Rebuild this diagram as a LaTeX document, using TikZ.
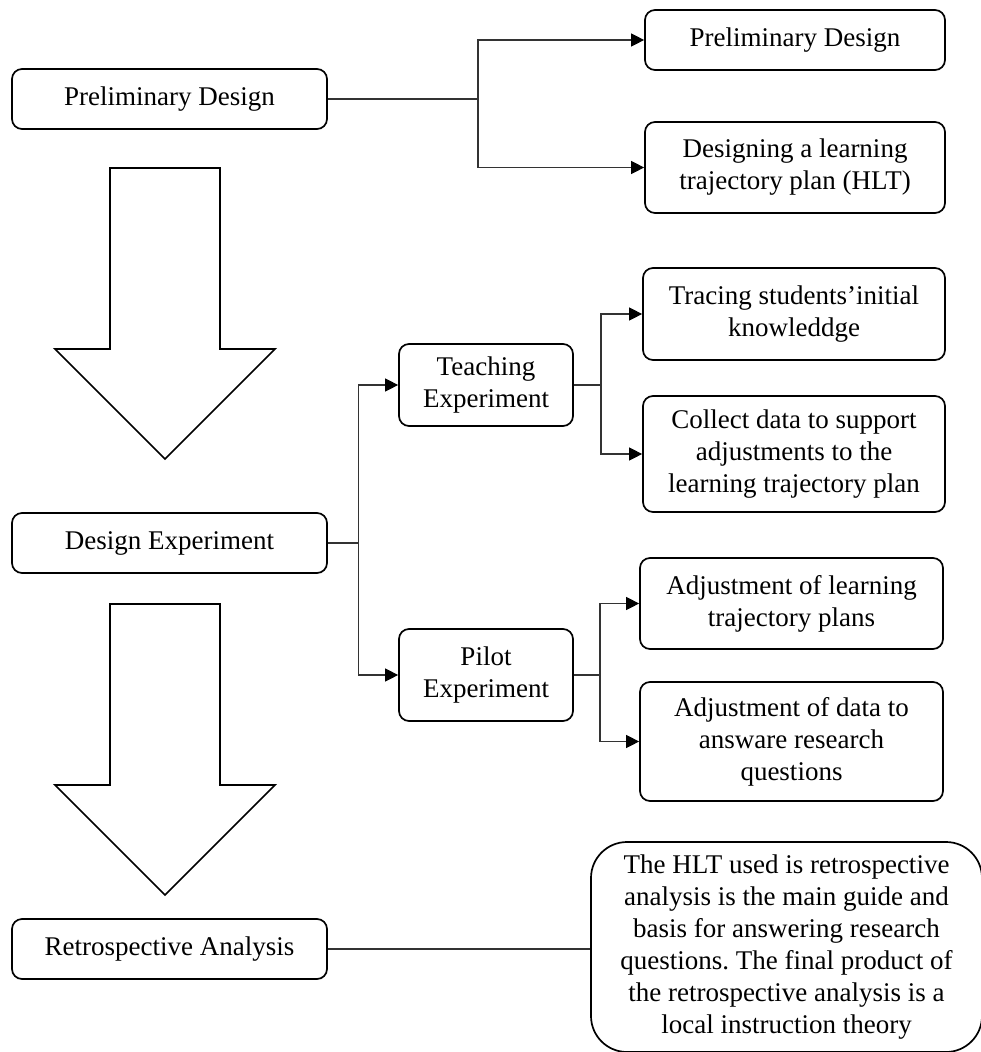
\documentclass[tikz,border=0pt]{standalone}
\usepackage{fontspec}
\setmainfont{Liberation Serif}
\usetikzlibrary{arrows.meta,calc}
\frenchspacing
\begin{document}
\begin{tikzpicture}[x=1pt,y=-1pt,
  box/.style={draw, line width=1.7pt, rounded corners=10pt, align=center, inner sep=0pt,
    font=\fontsize{27}{32}\selectfont},
  conn/.style={draw=black!80, line width=1.1pt},
  arr/.style={conn, -{Triangle[length=13pt,width=13pt,color=black]}},
  bigarrow/.style={draw, line width=1.7pt, fill=white, line join=miter}
]
\useasboundingbox (0,0) rectangle (981,1052);

% left column
\node[box, minimum width=315, minimum height=60] (pd) at (169.5,99) {Preliminary Design};
\node[box, minimum width=315, minimum height=60] (de) at (169.5,543) {Design Experiment};
\node[box, minimum width=315, minimum height=60] (ra) at (169.5,949) {Retrospective Analysis};

% big down arrows
\draw[bigarrow] (110,168) -- (220,168) -- (220,349) -- (275,349) -- (165,459) -- (55,349) -- (110,349) -- cycle;
\draw[bigarrow] (110,604) -- (220,604) -- (220,785) -- (275,785) -- (165,895) -- (55,785) -- (110,785) -- cycle;

% right of preliminary design
\node[box, minimum width=300, minimum height=60] (pd2) at (795,40) {Preliminary Design};
\node[box, minimum width=300, minimum height=91] (hlt) at (795,167.5) {Designing a learning\\trajectory plan (HLT)};

% middle column
\node[box, minimum width=174, minimum height=82] (te) at (486,385) {Teaching\\Experiment};
\node[box, minimum width=174, minimum height=92] (pe) at (486,675) {Pilot\\Experiment};

% right column
\node[box, minimum width=302, minimum height=92] (tr) at (794,314) {Tracing students’initial\\knowleddge};
\node[box, minimum width=302, minimum height=116] (cd) at (794,454) {Collect data to support\\adjustments to the\\learning trajectory plan};
\node[box, minimum width=303, minimum height=91] (al) at (791.5,603.5) {Adjustment of learning\\trajectory plans};
\node[box, minimum width=303, minimum height=119] (ad) at (791.5,741.5) {Adjustment of data to\\answare research\\questions};

\node[box, rounded corners=36pt, minimum width=391, minimum height=210] (fin) at (786.5,947)
  {The HLT used is retrospective\\analysis is the main guide and\\basis for answering research\\questions. The final product of\\the retrospective analysis is a\\local instruction theory};

% junction coordinates
\coordinate (j1) at (478,99);
\coordinate (j2) at (358.5,543);
\coordinate (j3) at (601,385);
\coordinate (j4) at (600,675);

% connectors
\draw[conn] (pd.east) -- (j1);
\draw[arr] (j1) |- (pd2.west);
\draw[arr] (j1) |- (hlt.west);

\draw[conn] (de.east) -- (j2);
\draw[arr] (j2) |- (te.west);
\draw[arr] (j2) |- (pe.west);

\draw[conn] (te.east) -- (j3);
\draw[arr] (j3) |- (tr.west);
\draw[arr] (j3) |- (cd.west);

\draw[conn] (pe.east) -- (j4);
\draw[arr] (j4) |- (al.west);
\draw[arr] (j4) |- (ad.west);

\draw[conn] (ra.east) -- (ra.east -| fin.west);
\end{tikzpicture}
\end{document}
